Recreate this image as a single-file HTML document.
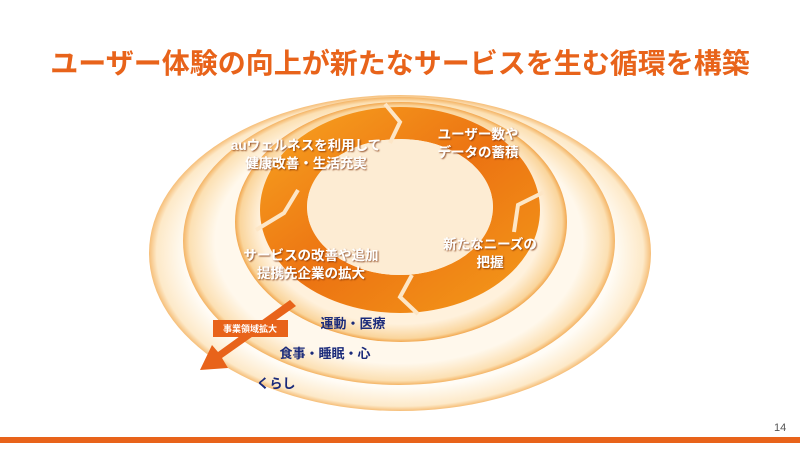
<!DOCTYPE html>
<html><head><meta charset="utf-8"><style>
body{margin:0;width:800px;height:450px;overflow:hidden;background:#fff;font-family:"Liberation Sans","Noto Sans CJK JP",sans-serif;position:relative}
.t{position:absolute;left:0;width:800px;top:42px;text-align:center;font-size:28px;font-weight:bold;color:#e8631a;white-space:nowrap}
.bar{position:absolute;left:0;top:437px;width:800px;height:6px;background:#e8631a}
.pn{position:absolute;left:774px;top:422px;font-size:11px;color:#555}
</style></head><body>
<div class="t">ユーザー体験の向上が新たなサービスを生む循環を構築</div>
<svg width="800" height="450" style="position:absolute;left:0;top:0">
<defs>
<radialGradient id="e1" cx="50%" cy="50%" r="50%"><stop offset="0.85" stop-color="#fffcf6"/><stop offset="0.97" stop-color="#fde9c8"/><stop offset="1" stop-color="#f6be78"/></radialGradient>
<radialGradient id="e2" cx="50%" cy="50%" r="50%"><stop offset="0.85" stop-color="#fff8ec"/><stop offset="0.97" stop-color="#fce0b3"/><stop offset="1" stop-color="#f4b465"/></radialGradient>
<radialGradient id="e3" cx="50%" cy="50%" r="50%"><stop offset="0.85" stop-color="#fff1dc"/><stop offset="0.97" stop-color="#fad59c"/><stop offset="1" stop-color="#f2a850"/></radialGradient>
<linearGradient id="rg" x1="0" y1="0" x2="1" y2="1"><stop offset="0" stop-color="#f8a520"/><stop offset="0.5" stop-color="#ec7312"/><stop offset="1" stop-color="#f49c1a"/></linearGradient>
<filter id="sh"><feDropShadow dx="1" dy="1" stdDeviation="0.8" flood-color="#7a2a00" flood-opacity="0.8"/></filter>
</defs>
<ellipse cx="400" cy="253" rx="251" ry="158" fill="url(#e1)"/>
<ellipse cx="399" cy="241" rx="216" ry="144" fill="url(#e2)"/>
<ellipse cx="401" cy="222" rx="166" ry="120" fill="url(#e3)"/>
<path fill-rule="evenodd" fill="url(#rg)" d="M260,210a140,103 0 1,0 280,0a140,103 0 1,0 -280,0Z M307,207a93,68 0 1,0 186,0a93,68 0 1,0 -186,0Z"/>
<ellipse cx="400" cy="207" rx="93" ry="68" fill="#fdecd3"/>
<g stroke="#fde6c6" stroke-width="4" fill="none">
<polyline points="385,104 400,122 390,143"/>
<polyline points="544,192 518,205 514,232"/>
<polyline points="418,314 400,297 412,275"/>
<polyline points="256,230 284,213 298,190"/>
</g>
<polygon points="290,300 296,306 222,358 228,368 200,370 212,345 218,352" fill="#e8631a"/>
<rect x="213" y="320" width="75" height="17" fill="#e8631a"/>
<text x="250" y="332" font-size="9" fill="#fff" text-anchor="middle" font-weight="bold">事業領域拡大</text>
<g font-size="13.5" font-weight="bold" fill="#fff" text-anchor="middle" filter="url(#sh)">
<text x="306" y="150">auウェルネスを利用して</text>
<text x="306" y="168">健康改善・生活充実</text>
<text x="478" y="139">ユーザー数や</text>
<text x="478" y="157">データの蓄積</text>
<text x="490" y="249">新たなニーズの</text>
<text x="490" y="267">把握</text>
<text x="311" y="260">サービスの改善や追加</text>
<text x="311" y="278">提携先企業の拡大</text>
</g>
<g font-size="13" font-weight="bold" fill="#1a2a7a" text-anchor="middle">
<text x="353" y="328">運動・医療</text>
<text x="325" y="358">食事・睡眠・心</text>
<text x="276" y="388">くらし</text>
</g>
</svg>
<div class="bar"></div>
<div class="pn">14</div>
</body></html>
